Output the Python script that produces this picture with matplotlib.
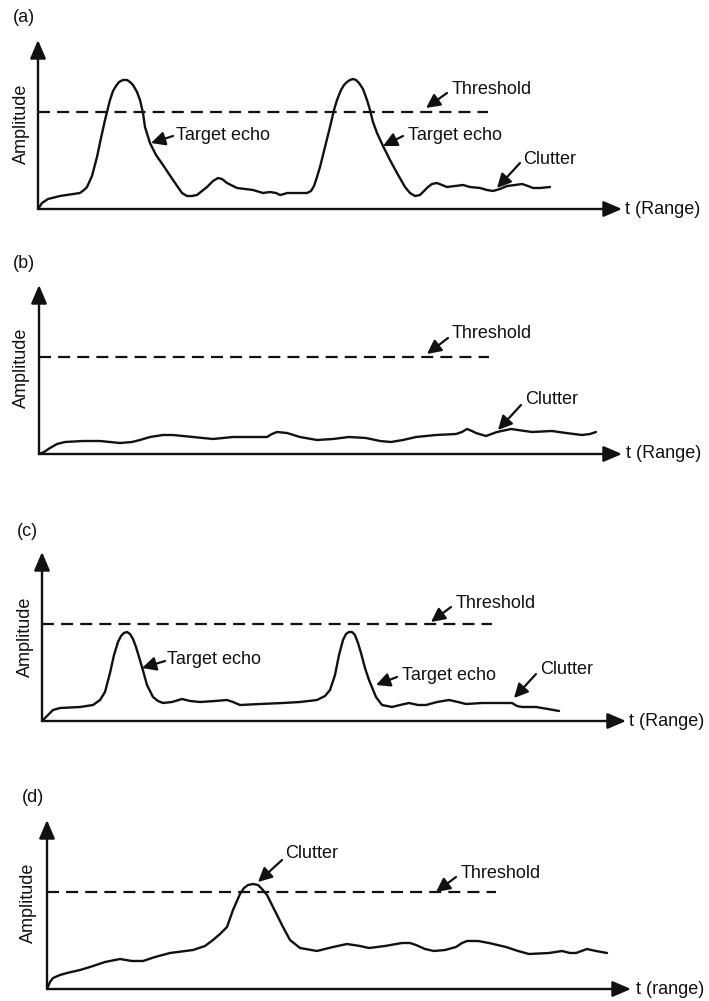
import matplotlib
matplotlib.use("Agg")
import matplotlib.pyplot as plt

plt.rcParams['font.family'] = ['Liberation Sans', 'DejaVu Sans']

# -----------------------------------------------------------------------------
# Data (t, amplitude), in pixel units from each origin
# -----------------------------------------------------------------------------
a_t = [0, 4, 10, 22, 42, 46, 49, 54, 59, 63, 67, 72, 75, 78, 81, 85, 89, 92,
       95, 99, 102, 105, 107, 112, 118, 125, 135, 144, 149, 154, 159, 169,
       175, 180, 184, 189, 199, 207, 215, 225, 232, 238, 242, 246, 249, 259,
       269, 273, 276, 279, 282, 287, 292, 296, 299, 303, 306, 309, 312, 315,
       318, 321, 325, 329, 332, 335, 339, 345, 352, 359, 367, 372, 377, 382,
       386, 390, 394, 399, 404, 409, 417, 425, 432, 442, 449, 455, 462, 469,
       477, 484, 490, 495, 502, 512]
a_amp = [0, 6, 10, 13, 16, 19, 22, 33, 52, 71, 89, 109, 118, 123, 127, 129,
         129, 127, 124, 117, 109, 96, 82, 66, 54, 44, 29, 16, 13, 13, 14, 22,
         28, 31, 30, 26, 21, 20, 19, 16, 17, 16, 14, 15, 16, 16, 16, 18, 23,
         32, 42, 62, 82, 99, 109, 119, 124, 127, 129, 130, 129, 126, 120, 109,
         99, 87, 76, 63, 49, 36, 22, 16, 13, 14, 18, 22, 25, 26, 24, 22, 23,
         24, 22, 21, 19, 18, 20, 23, 24, 25, 23, 21, 21, 22]

b_t = [0, 5, 11, 18, 26, 44, 61, 81, 93, 101, 111, 124, 134, 144, 154, 174,
       184, 194, 211, 228, 233, 238, 248, 261, 278, 294, 310, 327, 341, 352,
       364, 377, 397, 417, 423, 428, 433, 437, 447, 458, 472, 493, 513, 527,
       543, 551, 557]
b_amp = [0, 2, 6, 10, 12, 13, 13, 11, 12, 14, 17, 19, 19, 18, 17, 15, 16, 17,
         17, 17, 20, 22, 21, 17, 14, 15, 17, 16, 13, 12, 14, 17, 19, 20, 22,
         25, 23, 21, 18, 22, 25, 22, 23, 21, 19, 20, 22]

c_t = [0, 5, 11, 18, 38, 51, 58, 63, 68, 72, 76, 79, 82, 85, 88, 91, 94, 97,
       100, 105, 111, 116, 121, 130, 140, 148, 158, 173, 185, 191, 198, 218,
       241, 258, 275, 283, 288, 293, 297, 301, 304, 307, 310, 313, 316, 319,
       323, 327, 334, 340, 350, 358, 367, 376, 384, 395, 407, 416, 424, 440,
       455, 470, 475, 480, 494, 506, 517]
c_amp = [0, 5, 11, 13, 14, 16, 21, 29, 48, 66, 79, 85, 88, 89, 87, 82, 74, 64,
         54, 36, 24, 20, 18, 19, 22, 20, 19, 20, 21, 19, 16, 17, 18, 19, 21, 25,
         31, 46, 66, 81, 87, 89, 89, 86, 78, 68, 53, 41, 24, 16, 14, 16, 18, 16,
         16, 19, 21, 19, 17, 18, 18, 18, 15, 14, 14, 12, 10]

d_t = [0, 3, 6, 13, 20, 33, 43, 58, 73, 85, 96, 108, 123, 146, 158, 166, 173,
       180, 186, 193, 197, 201, 206, 211, 215, 220, 228, 236, 243, 253, 270,
       286, 300, 313, 322, 338, 355, 363, 369, 378, 387, 398, 409, 415, 420,
       431, 442, 459, 471, 482, 502, 515, 523, 529, 540, 549, 560]
d_amp = [0, 7, 11, 14, 16, 19, 22, 27, 30, 28, 28, 32, 36, 39, 43, 49, 55, 62,
         79, 95, 101, 104, 105, 104, 100, 94, 78, 62, 49, 41, 38, 42, 45, 43,
         41, 43, 46, 46, 44, 40, 38, 39, 42, 46, 48, 48, 46, 42, 38, 35, 36, 38,
         36, 36, 40, 38, 36]

threshold = [97, 97, 97, 97]
threshold_end = [450, 450, 450, 449]
panel_labels = ["(a)", "(b)", "(c)", "(d)"]
x_labels = ["t (Range)", "t (Range)", "t (Range)", "t (range)"]

W, H = 709, 1001
FS = 13
INK = '#111111'


def make_axes(fig, ox, oy):
    """Full-figure axes where data (0, 0) sits at pixel (ox, oy) from top-left."""
    ax = fig.add_axes([0, 0, 1, 1])
    ax.set_xlim(-ox, W - ox)
    ax.set_ylim(-(H - oy), oy)
    ax.axis('off')
    return ax


def arrow(ax, tail, tip, lw=1.6, scale=14, hl=0.6, hw=0.3):
    ax.annotate('', xy=tip, xytext=tail,
                arrowprops=dict(arrowstyle=f'-|>,head_length={hl},head_width={hw}',
                                lw=lw, color=INK, mutation_scale=scale,
                                shrinkA=0, shrinkB=0))


def note(ax, text, text_xy, tail, tip):
    ax.text(text_xy[0], text_xy[1], text, fontsize=FS, color=INK,
            ha='left', va='center')
    arrow(ax, tail, tip)


def draw_panel(ax, t, amp, idx, label_xy, amp_xy, xlab_t, x_len=584):
    # axes with arrow heads
    arrow(ax, (0, 0), (0, 169), lw=1.7, scale=16, hl=0.7, hw=0.3)
    arrow(ax, (0, 0), (x_len, 0), lw=1.7, scale=16, hl=0.7, hw=0.3)
    ax.plot(t, amp, color=INK, lw=1.7, solid_joinstyle='round',
            solid_capstyle='round')
    ax.plot([0, threshold_end[idx]], [threshold[idx], threshold[idx]],
            color=INK, lw=1.6, dashes=(5.4, 3.2))
    ax.text(label_xy[0], label_xy[1], panel_labels[idx], fontsize=FS,
            color=INK, ha='left', va='center')
    ax.text(amp_xy[0], amp_xy[1], "Amplitude", fontsize=FS, color=INK,
            rotation=90, ha='center', va='center')
    ax.text(xlab_t, 0, x_labels[idx], fontsize=FS, color=INK,
            ha='left', va='center')


fig = plt.figure(figsize=(W / 100, H / 100), dpi=100)

# (a)
ax = make_axes(fig, 38, 209)
draw_panel(ax, a_t, a_amp, 0, (-25, 191), (-17, 85), 587)
note(ax, "Threshold", (414, 120), (409, 116), (388, 101))
note(ax, "Target echo", (138, 74), (135, 73), (113, 66))
note(ax, "Target echo", (370, 73), (365, 73), (345, 63))
note(ax, "Clutter", (485, 49), (482, 46), (459, 21))

# (b)
ax = make_axes(fig, 39, 454)
draw_panel(ax, b_t, b_amp, 1, (-26, 191), (-18, 86), 587, x_len=583)
note(ax, "Threshold", (413, 120), (409, 116), (388, 100))
note(ax, "Clutter", (486, 54), (482, 49), (459, 24))

# (c)
ax = make_axes(fig, 42, 721)
draw_panel(ax, c_t, c_amp, 2, (-25, 189), (-17, 84), 587)
note(ax, "Threshold", (414, 118), (409, 114), (389, 99))
note(ax, "Target echo", (125, 61), (123, 60), (100, 53))
note(ax, "Target echo", (360, 45), (355, 44), (334, 36))
note(ax, "Clutter", (498, 51), (494, 47), (472, 23))

# (d)
ax = make_axes(fig, 47, 989)
draw_panel(ax, d_t, d_amp, 3, (-25, 192), (-19, 86), 589)
note(ax, "Threshold", (414, 116), (409, 112), (389, 97))
note(ax, "Clutter", (238, 135), (235, 129), (211, 107))

fig.savefig("out.png", dpi=100, facecolor='white')
